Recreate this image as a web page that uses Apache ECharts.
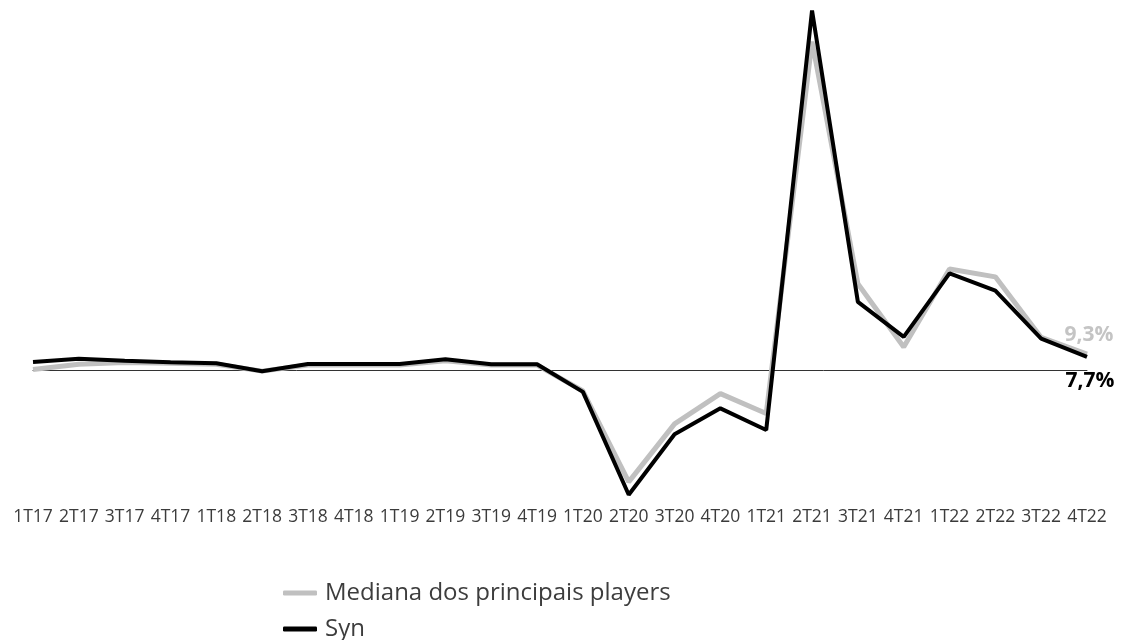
<!DOCTYPE html>
<html>
<head>
<meta charset="utf-8">
<script src="https://cdn.jsdelivr.net/npm/echarts@6/dist/echarts.min.js"></script>
<style>
  html, body { margin: 0; padding: 0; background: #fff; }
  #chart { width: 1121px; height: 640px; }
</style>
</head>
<body>
<div id="chart"></div>
<script>
// Quarters 2017–2022
const categories = ['1T17','2T17','3T17','4T17','1T18','2T18','3T18','4T18','1T19','2T19','3T19','4T19',
                    '1T20','2T20','3T20','4T20','1T21','2T21','3T21','4T21','1T22','2T22','3T22','4T22'];

// Median of the main players (%)
const medianaValues = [0.5, 3.5, 4.5, 4.0, 3.5, -0.5, 3.0, 3.0, 3.0, 5.5, 3.0, 3.0,
                       -12.0, -64.5, -31.0, -13.5, -25.0, 190.0, 50.0, 13.5, 58.5, 54.0, 19.0, 9.3];

// Syn (%)
const synValues = [4.8, 6.7, 5.5, 4.6, 4.0, -0.6, 3.6, 3.6, 3.6, 6.4, 3.5, 3.5,
                   -12.5, -72.0, -37.0, -22.0, -34.5, 208.0, 39.5, 19.3, 56.0, 46.0, 18.3, 7.7];

const seriesNames = ['Mediana dos principais players', 'Syn'];

const fmt = v => v.toFixed(1).replace('.', ',') + '%';

const legendText = { fontFamily: 'Open Sans', fontSize: 24, lineHeight: 28, color: '#3d3d3d', padding: [0, 0, 0, 3] };

function legendFor(name, top) {
  return {
    orient: 'vertical',
    left: 283,
    top: top,
    padding: 0,
    itemWidth: 34,
    itemHeight: 5,
    icon: 'roundRect',
    textStyle: legendText,
    data: [name]
  };
}

const chart = echarts.init(document.getElementById('chart'), null, { renderer: 'canvas' });

chart.setOption({
  animation: false,
  backgroundColor: '#ffffff',
  textStyle: { fontFamily: 'Open Sans' },
  grid: { left: 33, right: 34, top: 7, bottom: 140, containLabel: false },
  legend: [legendFor(seriesNames[0], 579), legendFor(seriesNames[1], 615)],
  xAxis: [
    {
      type: 'category',
      data: categories,
      boundaryGap: false,
      axisLine: { onZero: true, lineStyle: { color: '#333333', width: 1 } },
      axisTick: { show: false },
      axisLabel: { show: false },
      splitLine: { show: false }
    },
    {
      type: 'category',
      data: categories,
      boundaryGap: false,
      position: 'bottom',
      axisLine: { show: false, onZero: false },
      axisTick: { show: false },
      axisLabel: { interval: 0, margin: 8, fontFamily: 'Open Sans', fontSize: 17.5, color: '#3b3b3b' },
      splitLine: { show: false }
    }
  ],
  yAxis: {
    type: 'value',
    min: -75,
    max: 210,
    show: false,
    splitLine: { show: false }
  },
  series: [
    {
      name: seriesNames[0],
      type: 'line',
      data: medianaValues,
      symbol: 'none',
      color: '#c0c0c0',
      lineStyle: { color: '#c0c0c0', width: 5 },
      endLabel: {
        show: true,
        formatter: p => fmt(p.value),
        distance: 0,
        align: 'center',
        verticalAlign: 'middle',
        offset: [2, -19],
        fontFamily: 'Open Sans', fontSize: 21, fontWeight: 'bold', color: '#c4c4c4'
      },
      z: 2
    },
    {
      name: seriesNames[1],
      type: 'line',
      data: synValues,
      symbol: 'none',
      color: '#000000',
      lineStyle: { color: '#000000', width: 4 },
      endLabel: {
        show: true,
        formatter: p => fmt(p.value),
        distance: 0,
        align: 'center',
        verticalAlign: 'middle',
        offset: [3, 24],
        fontFamily: 'Open Sans', fontSize: 21, fontWeight: 'bold', color: '#000000'
      },
      z: 3
    }
  ]
});
</script>
</body>
</html>
